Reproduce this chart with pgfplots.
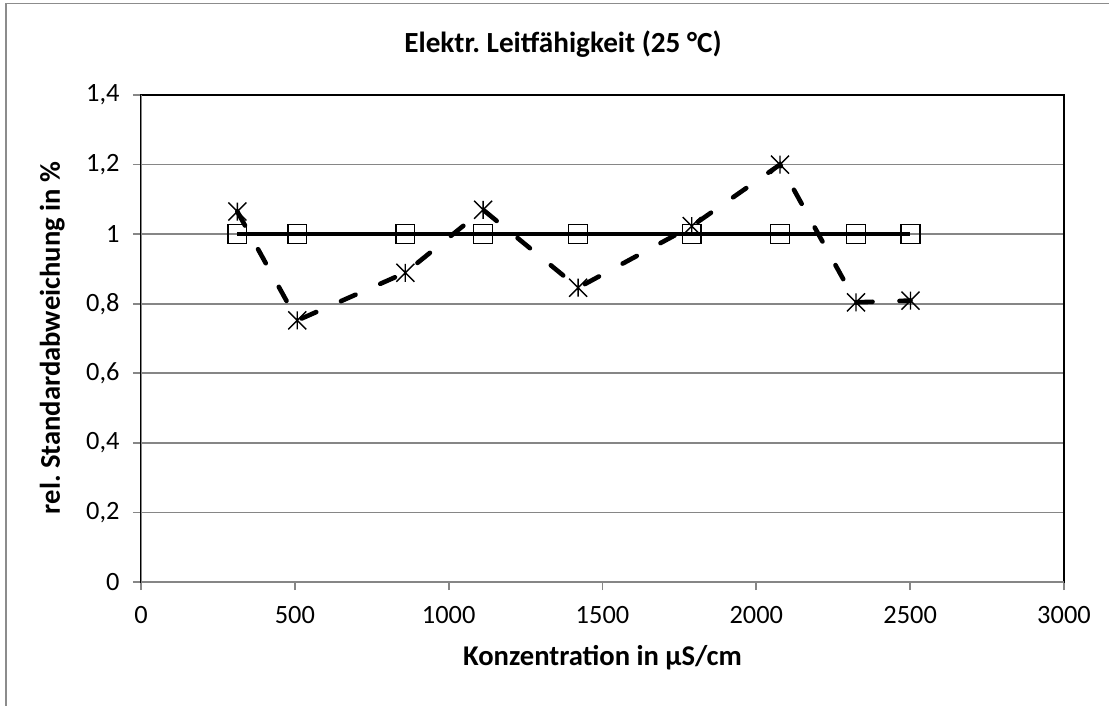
\documentclass[border=0pt]{standalone}
\usepackage{pgfplots}
\pgfplotsset{compat=1.18}
\usepackage{fontspec}
\setmainfont{Carlito}
\frenchspacing

\definecolor{xlgray}{RGB}{134,134,134}
\definecolor{framegray}{RGB}{140,140,140}

% Excel-style star marker: vertical bar plus an X
\pgfdeclareplotmark{xlstar}{%
  \pgfpathmoveto{\pgfqpoint{0pt}{-\pgfplotmarksize}}%
  \pgfpathlineto{\pgfqpoint{0pt}{\pgfplotmarksize}}%
  \pgfpathmoveto{\pgfqpoint{-\pgfplotmarksize}{-\pgfplotmarksize}}%
  \pgfpathlineto{\pgfqpoint{\pgfplotmarksize}{\pgfplotmarksize}}%
  \pgfpathmoveto{\pgfqpoint{-\pgfplotmarksize}{\pgfplotmarksize}}%
  \pgfpathlineto{\pgfqpoint{\pgfplotmarksize}{-\pgfplotmarksize}}%
  \pgfusepathqstroke}

\begin{document}
\begin{tikzpicture}
\useasboundingbox (0,0) rectangle (554.5pt,-353pt);
% chart frame (only left and top edge are inside the crop)
\draw[framegray, line width=0.8pt] (2.85pt,-370pt) -- (2.85pt,-1.75pt) -- (570pt,-1.75pt);

\begin{axis}[
  at={(70.5pt,-291pt)}, anchor=south west,
  scale only axis, width=461.5pt, height=243.5pt,
  xmin=0, xmax=3000, ymin=0, ymax=1.4,
  xtick={0,500,1000,1500,2000,2500,3000},
  ytick={0,0.2,0.4,0.6,0.8,1,1.2,1.4},
  /pgf/number format/.cd, use comma, 1000 sep={}, assume math mode=true,
  /pgfplots/.cd,
  tick pos=left, tick align=outside, major tick length=4pt,
  tick style={xlgray, line width=0.9pt},
  ymajorgrids, grid style={xlgray, line width=0.9pt},
  axis line style={black, line width=1.3pt},
  ticklabel style={font=\fontsize{13.2}{16}\selectfont, inner sep=0pt},
  xticklabel shift=8pt, yticklabel shift=6.5pt,
]
\addplot[black, line width=2pt, mark=square, mark size=4.7pt,
  mark options={solid, line width=0.7pt}] coordinates {
  (313,1) (508,1) (859,1) (1112,1) (1421,1) (1790,1) (2077,1) (2324,1) (2501,1)
};
\addplot[black, line width=2.3pt, dash pattern=on 8pt off 13.5pt, line cap=round,
  mark=xlstar, mark size=4.5pt,
  mark options={solid, line width=0.7pt, line cap=butt}] coordinates {
  (313,1.065) (508,0.752) (859,0.889) (1112,1.070) (1421,0.846)
  (1790,1.023) (2077,1.200) (2324,0.804) (2501,0.809)
};
\draw[xlgray, line width=1.4pt] (rel axis cs:0,1) -- (rel axis cs:0,0) -- (rel axis cs:1,0);
\end{axis}

\node[anchor=base, inner sep=0pt, font=\bfseries\fontsize{14.6}{17}\selectfont]
  at (281.5pt,-26.5pt) {Elektr. Leitfähigkeit (25 °C)};
\node[anchor=base, inner sep=0pt, font=\bfseries\fontsize{14.3}{17}\selectfont]
  at (301.25pt,-332.5pt) {Konzentration in µS/cm};
\node[anchor=base, inner sep=0pt, rotate=90, font=\bfseries\fontsize{14.3}{17}\selectfont]
  at (30pt,-169pt) {rel. Standardabweichung in \%};
\end{tikzpicture}
\end{document}
